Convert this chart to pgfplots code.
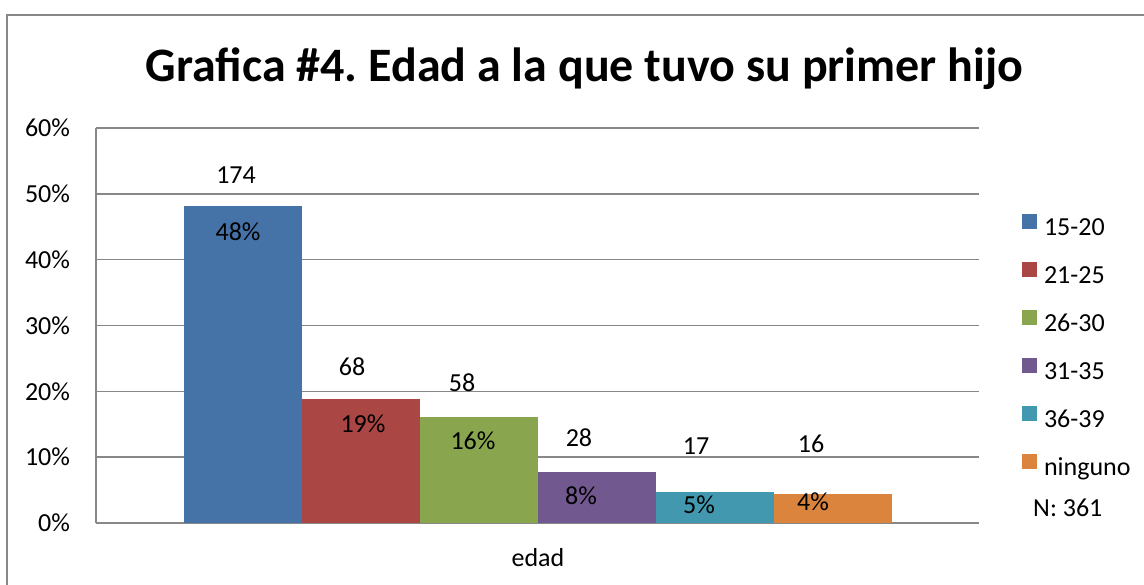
\documentclass[border=0pt]{standalone}
\usepackage{pgfplots}
\pgfplotsset{compat=1.18}
\usepackage{fontspec}
\setmainfont{Carlito}
\frenchspacing
\definecolor{c1}{HTML}{4572A7}
\definecolor{c2}{HTML}{AA4643}
\definecolor{c3}{HTML}{89A54E}
\definecolor{c4}{HTML}{71588F}
\definecolor{c5}{HTML}{4198AF}
\definecolor{c6}{HTML}{DB843D}
\definecolor{gridc}{HTML}{888888}
\begin{document}
\begin{tikzpicture}[x=1pt,y=1pt]
\useasboundingbox (0,0) rectangle (1144,585);
\draw[gridc, line width=1.8pt] (7,-2) -- (7,570) -- (1146,570);
\node[font=\fontsize{48}{58}\selectfont\bfseries, anchor=base, inner sep=0pt] at (584.5,503) {Grafica \#4. Edad a la que tuvo su primer hijo};
\begin{axis}[
  at={(96pt,62pt)}, anchor=south west,
  scale only axis, width=883pt, height=395pt,
  xmin=-1.2458, xmax=6.2373, ymin=0, ymax=60,
  ytick={0,10,...,60},
  yticklabel={\pgfmathprintnumber{\tick}\%},
  xtick={2.5}, xticklabels={edad},
  major tick length=0pt,
  ymajorgrids,
  grid style={gridc, line width=1.6pt},
  axis x line=bottom, axis y line=left,
  axis line style={-, gridc, line width=1.6pt},
  /pgf/number format/assume math mode=true,
  tick label style={font=\fontsize{26}{30}\selectfont},
  yticklabel style={inner sep=0pt, outer sep=0pt, xshift=-26pt},
  xticklabel style={anchor=base, inner sep=0pt, outer sep=0pt, yshift=-44pt},
  clip=false,
  legend cell align=left,
  legend style={draw=none, fill=none, inner sep=0pt, outer sep=0pt,
    at={(1.0487,0.7815)}, anchor=north west,
    font=\fontsize{26}{30}\selectfont,
    row sep=20.6pt, column sep=7pt,
    nodes={inner sep=0pt, outer sep=0pt, text height=17pt, text depth=6pt}},
  legend image code/.code={\fill[#1] (0pt,0.8pt) rectangle (15pt,15.8pt);},
]
\addplot[ybar, bar width=1, bar shift=0pt, fill=c1, draw=none] coordinates {(0,48.199)};
\addlegendentry{15-20}
\addplot[ybar, bar width=1, bar shift=0pt, fill=c2, draw=none] coordinates {(1,18.837)};
\addlegendentry{21-25}
\addplot[ybar, bar width=1, bar shift=0pt, fill=c3, draw=none] coordinates {(2,16.066)};
\addlegendentry{26-30}
\addplot[ybar, bar width=1, bar shift=0pt, fill=c4, draw=none] coordinates {(3,7.756)};
\addlegendentry{31-35}
\addplot[ybar, bar width=1, bar shift=0pt, fill=c5, draw=none] coordinates {(4,4.709)};
\addlegendentry{36-39}
\addplot[ybar, bar width=1, bar shift=0pt, fill=c6, draw=none] coordinates {(5,4.432)};
\addlegendentry{ninguno}
\begin{scope}[every node/.style={font=\fontsize{26}{30}\selectfont, anchor=base, inner sep=0pt}]
\node at (axis cs:-0.059,51.6) {174};
\node at (axis cs:-0.042,42.94) {48\%};
\node at (axis cs:0.924,22.44) {68};
\node at (axis cs:1.017,13.78) {19\%};
\node at (axis cs:1.856,20.0) {58};
\node at (axis cs:1.949,11.2) {16\%};
\node at (axis cs:2.847,11.65) {28};
\node at (axis cs:2.864,2.84) {8\%};
\node at (axis cs:3.839,10.44) {17};
\node at (axis cs:3.864,1.47) {5\%};
\node at (axis cs:4.814,10.74) {16};
\node at (axis cs:4.831,1.93) {4\%};
\end{scope}
\end{axis}
\node[font=\fontsize{26}{30}\selectfont, anchor=base west, inner sep=0pt] at (1033,68) {N: 361};
\end{tikzpicture}
\end{document}
